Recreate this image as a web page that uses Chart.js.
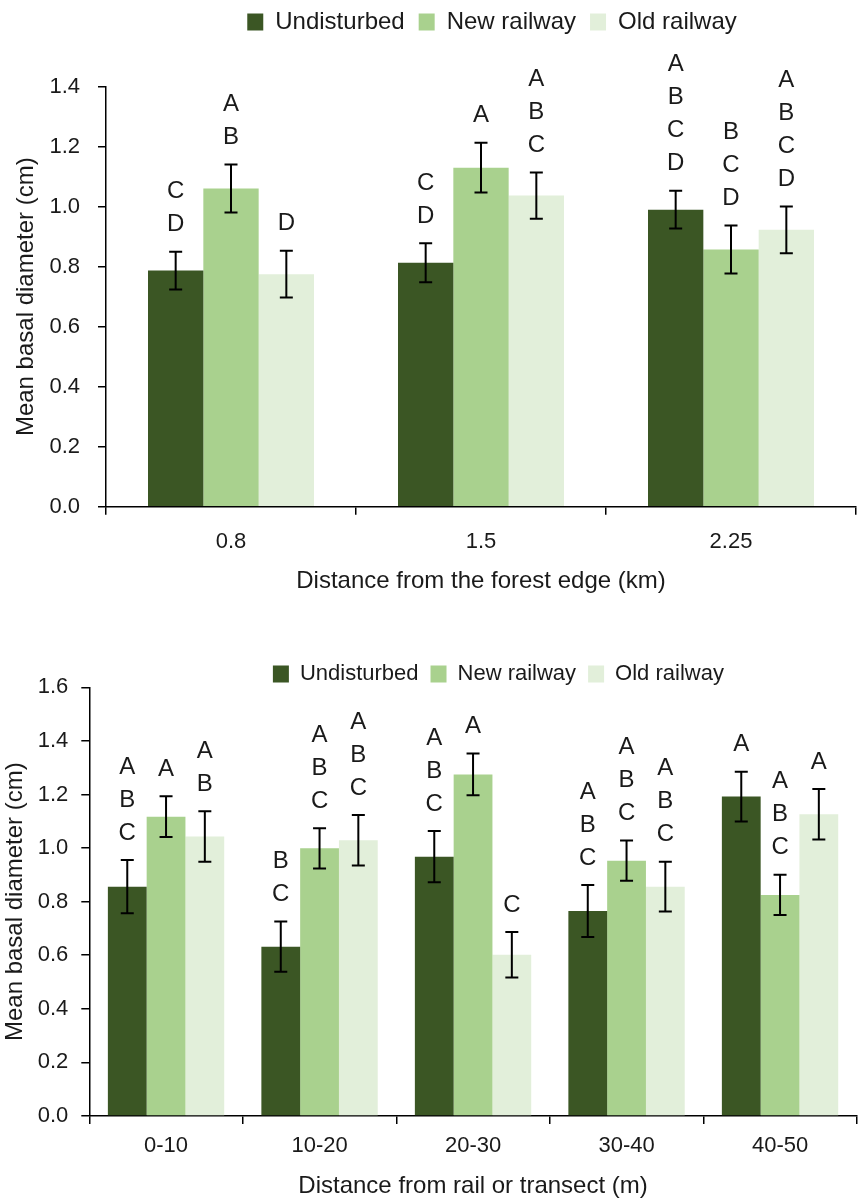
<!DOCTYPE html>
<html lang="en">
<head>
<meta charset="UTF-8">
<title>Mean basal diameter</title>
<script src="https://cdn.jsdelivr.net/npm/chart.js"></script>
<style>
  body { margin: 0; background: #fff; }
  canvas { position: absolute; left: 0; }
  #edgeChart { top: 0; }
  #railChart { top: 640px; }
</style>
</head>
<body>
<canvas id="edgeChart" width="858" height="600"></canvas>
<canvas id="railChart" width="858" height="562"></canvas>
<script>
// series names
const seriesNames = ['Undisturbed', 'New railway', 'Old railway'];
const seriesColors = ['#3b5624', '#a9d18e', '#e2efda'];

// top panel - distance from the forest edge (km)
const edgeLabels = ['0.8', '1.5', '2.25'];
const edgeUndisturbed = [0.787, 0.813, 0.99];
const edgeNew = [1.061, 1.13, 0.857];
const edgeOld = [0.775, 1.037, 0.923];
const edgeErrUndisturbed = [0.063, 0.065, 0.063];
const edgeErrNew = [0.08, 0.083, 0.08];
const edgeErrOld = [0.078, 0.077, 0.078];
const edgeLetUndisturbed = ['CD', 'CD', 'ABCD'];
const edgeLetNew = ['AB', 'A', 'BCD'];
const edgeLetOld = ['D', 'ABC', 'ABCD'];

// bottom panel - distance from rail or transect (m)
const railLabels = ['0-10', '10-20', '20-30', '30-40', '40-50'];
const railUndisturbed = [0.856, 0.632, 0.968, 0.765, 1.192];
const railNew = [1.117, 0.999, 1.275, 0.953, 0.825];
const railOld = [1.043, 1.029, 0.602, 0.856, 1.126];
const railErrUndisturbed = [0.099, 0.094, 0.096, 0.097, 0.093];
const railErrNew = [0.076, 0.075, 0.078, 0.075, 0.075];
const railErrOld = [0.094, 0.094, 0.085, 0.093, 0.094];
const railLetUndisturbed = ['ABC', 'BC', 'ABC', 'ABC', 'A'];
const railLetNew = ['A', 'ABC', 'A', 'ABC', 'ABC'];
const railLetOld = ['AB', 'ABC', 'C', 'ABC', 'A'];

Chart.defaults.font.family = "'Liberation Sans', Arial, sans-serif";
Chart.defaults.color = '#1a1a1a';

// error bars + significance letters above each bar
const errLetters = {
    id: 'errLetters',
    afterDatasetsDraw(chart, args, opts) {
        const ctx = chart.ctx;
        const y = chart.scales.y;
        ctx.save();
        chart.data.datasets.forEach((ds, i) => {
            chart.getDatasetMeta(i).data.forEach((bar, j) => {
                const v = ds.data[j];
                const e = opts.errors[i][j];
                const hi = y.getPixelForValue(v + e);
                const lo = y.getPixelForValue(v - e);
                ctx.strokeStyle = '#000';
                ctx.lineWidth = 2;
                ctx.beginPath();
                ctx.moveTo(bar.x, hi); ctx.lineTo(bar.x, lo);
                ctx.moveTo(bar.x - 6.5, hi); ctx.lineTo(bar.x + 6.5, hi);
                ctx.moveTo(bar.x - 6.5, lo); ctx.lineTo(bar.x + 6.5, lo);
                ctx.stroke();

                const chars = opts.letters[i][j].split('');
                ctx.font = opts.size + "px 'Liberation Sans', Arial, sans-serif";
                ctx.fillStyle = '#1a1a1a';
                ctx.textAlign = 'center';
                ctx.textBaseline = 'middle';
                chars.forEach((ch, k) => {
                    const n = chars.length - 1 - k;
                    ctx.fillText(ch, bar.x, hi - opts.gap - n * opts.step);
                });
            });
        });
        ctx.restore();
    }
};

// put the legend where the original has it (right of centre, fixed top)
const legendShift = {
    id: 'legendShift',
    afterLayout(chart, args, opts) {
        const lg = chart.legend;
        const h = lg.bottom - lg.top;
        lg.left += opts.dx;
        lg.right += opts.dx;
        lg.top = opts.top;
        lg.bottom = opts.top + h;
    }
};

function makeChart(id, cfg) {
    const ctx = document.getElementById(id).getContext('2d');
    return new Chart(ctx, {
        type: 'bar',
        data: {
            labels: cfg.labels,
            datasets: cfg.values.map((vals, i) => ({
                label: seriesNames[i],
                data: vals,
                backgroundColor: seriesColors[i],
                borderWidth: 0,
                categoryPercentage: cfg.groupWidth,
                barPercentage: 1
            }))
        },
        options: {
            responsive: false,
            animation: false,
            layout: { padding: { top: 0, right: cfg.padRight, left: 0, bottom: 0 } },
            plugins: {
                tooltip: { enabled: false },
                legend: {
                    maxHeight: cfg.legendMax,
                    labels: {
                        boxWidth: 16,
                        boxHeight: 17,
                        padding: cfg.legendPad,
                        font: { size: cfg.legendSize },
                        color: '#1a1a1a'
                    }
                },
                errLetters: { errors: cfg.errors, letters: cfg.letters, size: 24, gap: 27, step: 33 },
                legendShift: { dx: cfg.legendDx, top: cfg.legendTop }
            },
            scales: {
                x: {
                    grid: { drawOnChartArea: false, tickLength: 8, color: '#000', lineWidth: 1.5 },
                    border: { color: '#000', width: 1.5 },
                    ticks: { font: { size: 22 }, padding: cfg.xTickPad },
                    title: {
                        display: true,
                        text: cfg.xTitle,
                        font: { size: 24 },
                        padding: { top: 0, bottom: cfg.xTitlePad }
                    },
                    afterFit(s) { s.height = cfg.xHeight; }
                },
                y: {
                    min: 0,
                    max: cfg.yMax,
                    grid: { drawOnChartArea: false, tickLength: 8, color: '#000', lineWidth: 1.5 },
                    border: { color: '#000', width: 1.5 },
                    ticks: {
                        stepSize: 0.2,
                        font: { size: 22 },
                        padding: cfg.yTickPad,
                        callback: v => v.toFixed(1)
                    },
                    title: {
                        display: true,
                        text: 'Mean basal diameter (cm)',
                        font: { size: 24 },
                        padding: { top: cfg.yTitlePad, bottom: 0 }
                    },
                    afterFit(s) { s.width = cfg.yWidth; s.paddingTop = cfg.areaTop; }
                }
            }
        },
        plugins: [errLetters, legendShift]
    });
}

makeChart('edgeChart', {
    labels: edgeLabels,
    values: [edgeUndisturbed, edgeNew, edgeOld],
    errors: [edgeErrUndisturbed, edgeErrNew, edgeErrOld],
    letters: [edgeLetUndisturbed, edgeLetNew, edgeLetOld],
    groupWidth: 0.664,
    yMax: 1.4,
    xTitle: 'Distance from the forest edge (km)',
    legendTop: -4, legendPad: 14, legendSize: 24, legendDx: 64, legendMax: undefined,
    padRight: 2, areaTop: 86.7, xHeight: 93.3,
    xTickPad: 14, xTitlePad: 4, yTickPad: 18, yTitlePad: 12, yWidth: 106
});

makeChart('railChart', {
    labels: railLabels,
    values: [railUndisturbed, railNew, railOld],
    errors: [railErrUndisturbed, railErrNew, railErrOld],
    letters: [railLetUndisturbed, railLetNew, railLetOld],
    groupWidth: 0.758,
    yMax: 1.6,
    xTitle: 'Distance from rail or transect (m)',
    legendTop: 11, legendPad: 12, legendSize: 22, legendDx: 70, legendMax: 36,
    padRight: 1.2, areaTop: 47.3, xHeight: 86,
    xTickPad: 9, xTitlePad: 1, yTickPad: 13, yTitlePad: 1, yWidth: 89.3
});
</script>
</body>
</html>
